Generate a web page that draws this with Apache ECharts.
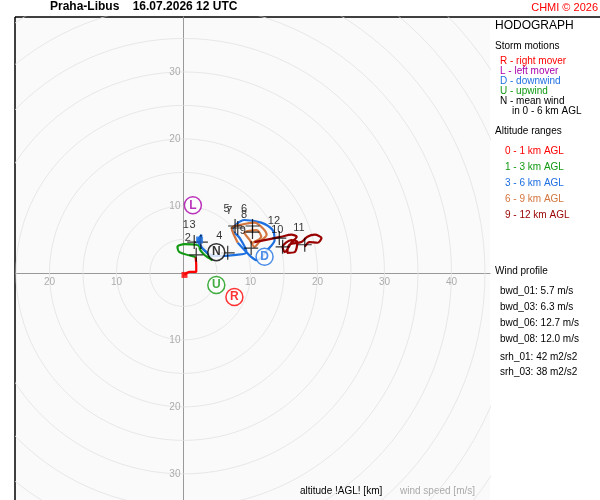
<!DOCTYPE html>
<html><head><meta charset="utf-8">
<script src="https://cdn.jsdelivr.net/npm/echarts@6/dist/echarts.min.js"></script>
<style>html,body{margin:0;padding:0;background:#fff}#main{width:600px;height:500px}</style>
</head><body><div id="main"></div>
<script>
// hodograph segments, [u, v] in m/s
var seg0_1 = [[0.15,-0.3],[0.9,0.15],[1.9,0.15],[1.9,1.2],[1.8,2.4]];
var seg1_3 = [[1.8,2.4],[-0.6,3.1],[-0.9,3.9],[0.15,4.3],[1.9,4.2],[3.4,3.1],[4.3,1.9],[3.1,2.7],[2.4,3.7],[2.4,4.9]];
var seg3_6 = [[2.4,4.9],[2.7,5.7],[2.2,4.9],[3.1,3.4],[4.6,2.5],[7.9,2.7],[9.4,3.1],[8.4,5.2],[7.3,6.4],[9.1,7.9],[11.6,7.5],[13.3,6.4],[13.6,4.9],[12.5,3.4],[11.0,1.9],[10.1,2.4],[8.1,4.5]];
var seg6_9 = [[8.1,4.5],[7.2,6.7],[8.7,7.2],[10.6,7.5],[11.8,6.7],[12.4,5.7],[11.3,4.6],[10.6,3.9],[9.9,4.9],[9.1,6.0],[10.9,6.4],[11.6,5.4],[10.3,4.5],[10.6,4.6]];
var seg9_12 = [[10.6,4.6],[13.6,5.2],[14.6,5.4],[16.1,5.7],[16.9,5.4],[16.1,4.5],[15.1,3.1],[14.8,3.9],[16.1,4.9],[17.0,4.6],[16.6,3.1],[15.5,3.0],[15.8,4.2],[17.6,4.6],[18.5,5.4],[19.6,5.7],[20.6,5.2],[20.0,4.5],[18.8,4.6],[18.1,3.9]];
var segColors = ['#ff0000','#119911','#1e6fe0','#d2753e','#990000'];
var segNames = ['0 - 1 km AGL','1 - 3 km AGL','3 - 6 km AGL','6 - 9 km AGL','9 - 12 km AGL'];

// altitude markers [label, u, v]
var altMarks = [['1',1.6,4.6],['2',1.9,2.7],['3',2.6,4.6],['4',6.6,3.0],['5',7.7,7.0],['6',10.3,7.0],['7',8.1,6.7],['8',10.3,6.1],['9',10.1,3.7],['10',14.8,3.9],['11',18.1,4.2],['12',14.3,5.2]];

// storm motions [letter, u, v, colour]
var storms = [['L',1.4,10.1,'#aa00aa'],['N',4.9,3.1,'#000000'],['D',12.1,2.4,'#1e6fe0'],['U',4.9,-1.8,'#119911'],['R',7.6,-3.6,'#ff0000']];

var ringRadii = [5,10,15,20,25,30,35,40,45,50,55,60];
var xTicks = [-20,-10,10,20,30,40];
var yTicks = [-30,-20,-10,10,20,30];

var chart = echarts.init(document.getElementById('main'));
var series = [];
ringRadii.forEach(function (r) {
  var pts = [];
  for (var a = 0; a <= 360; a += 3) pts.push([r * Math.cos(a * Math.PI / 180), r * Math.sin(a * Math.PI / 180)]);
  series.push({ type: 'line', data: pts, showSymbol: false, silent: true, lineStyle: { color: '#e2e2e2', width: 0.8 }, z: 1 });
});
// tick labels along the zero lines
series.push({ type: 'scatter', silent: true, symbolSize: 0, data: xTicks.map(function (v) { return [v, 0]; }),
  label: { show: true, position: 'bottom', distance: 4, formatter: function (p) { return Math.abs(p.value[0]); }, color: '#999', fontSize: 10, fontFamily: 'Liberation Sans' }, z: 2 });
series.push({ type: 'scatter', silent: true, symbolSize: 0, data: yTicks.map(function (v) { return [0, v]; }),
  label: { show: true, position: 'left', distance: 3, formatter: function (p) { return Math.abs(p.value[1]); }, color: '#999', fontSize: 10, fontFamily: 'Liberation Sans' }, z: 2 });
[seg0_1, seg1_3, seg3_6, seg6_9, seg9_12].forEach(function (s, i) {
  series.push({ type: 'line', data: s, showSymbol: false, smooth: 0.3, lineStyle: { color: segColors[i], width: 2.2 }, z: 3 });
});
series.push({ type: 'scatter', data: altMarks.map(function (m) { return { value: [m[1], m[2]], name: m[0] }; }),
  symbol: 'path://M0,5L10,5M5,0L5,10', symbolSize: 14, itemStyle: { color: 'none', borderColor: '#000', borderWidth: 1.2 },
  label: { show: true, formatter: '{b}', position: [-2, -13], color: '#000', fontSize: 11, fontFamily: 'Liberation Sans' }, z: 4 });
series.push({ type: 'scatter', data: storms.map(function (s) { return { value: [s[1], s[2]], name: s[0], itemStyle: { borderColor: s[3] }, label: { color: s[3] } }; }),
  symbol: 'circle', symbolSize: 17, itemStyle: { color: '#fff', borderWidth: 1.5 },
  label: { show: true, formatter: '{b}', position: 'inside', fontSize: 12, fontWeight: 'bold', fontFamily: 'Liberation Sans' }, z: 5 });
series.push({ type: 'scatter', data: [[0.15, -0.3]], symbol: 'rect', symbolSize: 6, itemStyle: { color: '#ff0000' }, z: 4 });
series.push({ type: 'scatter', data: [[2.4, 4.9]], symbol: 'rect', symbolSize: 7, itemStyle: { color: '#1e6fe0' }, z: 4 });

var rightTexts = [
  ['HODOGRAPH', 495, 20, '#000', 12],
  ['Storm motions', 495, 41, '#000', 10],
  ['R - right mover', 500, 56, '#ff0000', 10],
  ['L - left mover', 500, 66, '#aa00aa', 10],
  ['D - downwind', 500, 76, '#1e6fe0', 10],
  ['U - upwind', 500, 86, '#119911', 10],
  ['N - mean wind', 500, 96, '#000', 10],
  ['in 0 - 6 km AGL', 512, 106, '#000', 10],
  ['Altitude ranges', 495, 126, '#000', 10],
  ['Wind profile', 495, 266, '#000', 10],
  ['bwd_01: 5.7 m/s', 500, 286, '#000', 10],
  ['bwd_03: 6.3 m/s', 500, 302, '#000', 10],
  ['bwd_06: 12.7 m/s', 500, 318, '#000', 10],
  ['bwd_08: 12.0 m/s', 500, 334, '#000', 10],
  ['srh_01: 42 m2/s2', 500, 352, '#000', 10],
  ['srh_03: 38 m2/s2', 500, 367, '#000', 10]
];
segNames.forEach(function (n, i) { rightTexts.push([n, 505, 146 + i * 16, segColors[i], 10]); });
var graphics = [
  { type: 'rect', shape: { x: 15, y: 17, width: 475, height: 483 }, style: { fill: '#fafafa' }, z: -10, silent: true },
  { type: 'line', shape: { x1: 15, y1: 17, x2: 600, y2: 17 }, style: { stroke: '#000', lineWidth: 1.5 } },
  { type: 'line', shape: { x1: 15, y1: 17, x2: 15, y2: 500 }, style: { stroke: '#000', lineWidth: 1.5 } },
  { type: 'text', left: 50, top: 1, style: { text: 'Praha-Libus    16.07.2026 12 UTC', font: 'bold 12px Liberation Sans', fill: '#000' } },
  { type: 'text', right: 2, top: 2, style: { text: 'CHMI © 2026', font: '11px Liberation Sans', fill: '#ff0000' } },
  { type: 'text', left: 300, top: 486, style: { text: 'altitude !AGL! [km]', font: '10px Liberation Sans', fill: '#000' } },
  { type: 'text', left: 400, top: 486, style: { text: 'wind speed [m/s]', font: '10px Liberation Sans', fill: '#aaa' } }
];
rightTexts.forEach(function (t) {
  graphics.push({ type: 'text', left: t[1], top: t[2], style: { text: t[0], font: t[4] + 'px Liberation Sans', fill: t[3] } });
});

var option = {
  backgroundColor: '#fff',
  animation: false,
  grid: { left: 16, top: 17, width: 474, height: 483, outerBoundsMode: 'none', containLabel: false },
  xAxis: { type: 'value', min: -25, max: 45.75,
    axisLine: { onZero: true, lineStyle: { color: '#999' } }, axisTick: { show: false }, splitLine: { show: false }, axisLabel: { show: false } },
  yAxis: { type: 'value', min: -33.9, max: 38.2,
    axisLine: { onZero: true, lineStyle: { color: '#999' } }, axisTick: { show: false }, splitLine: { show: false }, axisLabel: { show: false } },
  graphic: graphics,
  series: series
};
chart.setOption(option);
</script></body></html>
